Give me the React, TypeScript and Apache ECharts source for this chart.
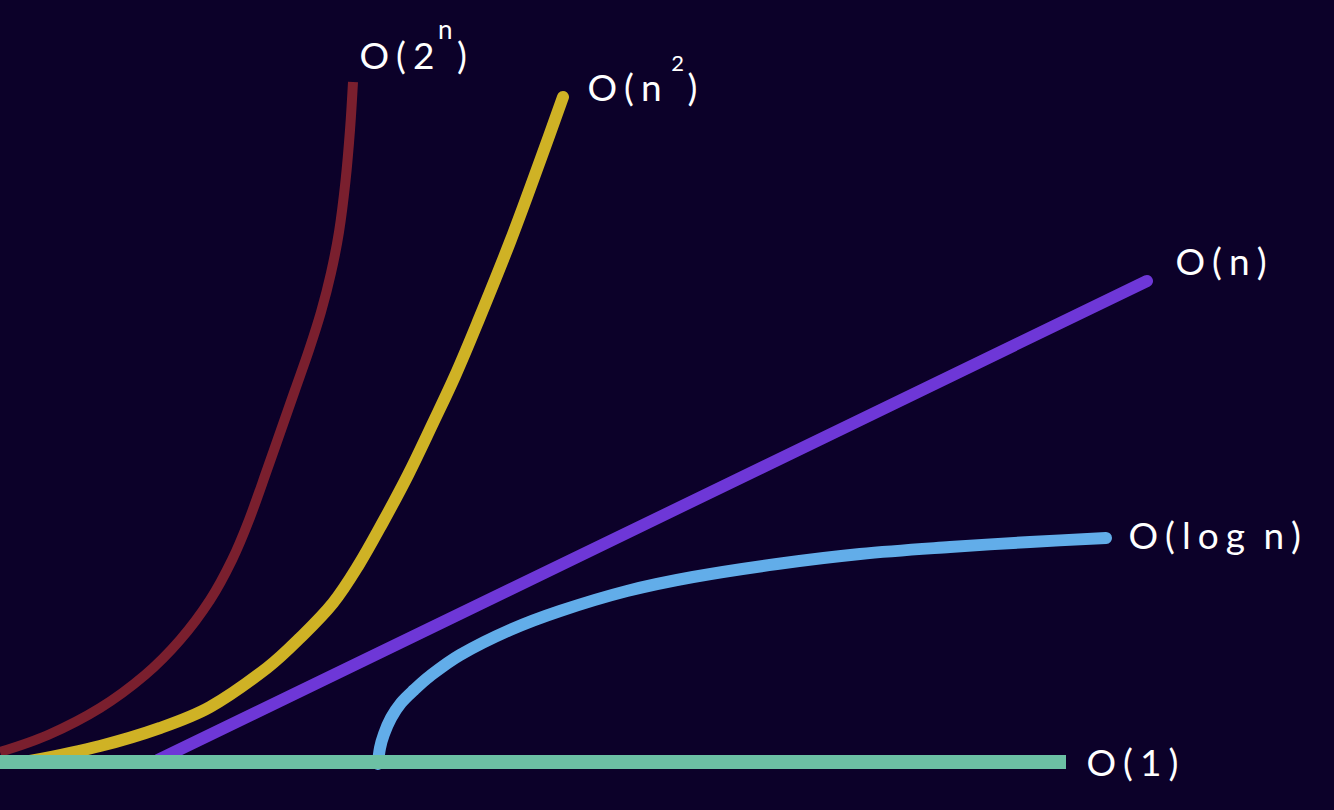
import React, { useEffect, useRef } from "react";
import * as echarts from "echarts";

// Curves: [input size, operations] in screen-like units (y grows upward)
const exponentialPts: number[][] = [
  [0, 58], [48, 75], [100, 102], [145, 135], [180, 170], [210, 210], [232, 250],
  [249, 290], [268, 343], [281, 380], [295, 420], [309, 460], [321, 498], [331, 537],
  [339, 578], [345.5, 629], [350, 680], [353, 728],
];
const quadraticPts: number[][] = [
  [30, 49], [100, 64], [160, 82], [210, 103], [267, 142], [300, 172], [333, 207],
  [358, 244], [383, 288], [408, 335], [433, 387], [455, 434], [477, 486], [510, 568],
  [540, 649], [563, 713],
];
const linearPts: number[][] = [
  [158, 50], [1147, 529],
];
const logPts: number[][] = [
  [378, 46], [380, 62], [384, 76], [391, 92], [401, 107], [414, 120], [430, 134],
  [460, 155], [510, 180], [560, 199], [627, 219], [693, 233], [777, 246], [860, 256],
  [950, 263], [1030, 268], [1106, 272],
];
const constantPts: number[][] = [
  [0, 48], [1066, 48],
];

const labelBase = ["O(2", "O(n", "O(n)", "O(log n)", "O(1)"];
const labelSup = ["n", "2", "", "", ""];
const labelTail = [")", ")", "", "", ""];

const BG = "#0c0129";
const FONT = "Lato, 'Open Sans', sans-serif";

const spaced = (s: string) =>
  s.split("").map((ch) => (ch === " " ? "{sp| }" : `{c|${ch}}`)).join("");

export default function App() {
  const ref = useRef<HTMLDivElement>(null);

  useEffect(() => {
    document.body.style.margin = "0";
    document.body.style.background = BG;
    if (!ref.current) return;
    const chart = echarts.init(ref.current, undefined, { renderer: "svg" });

    const mkRich = (lh: number) => ({
      c: { color: "#ffffff", fontSize: 37, fontFamily: FONT, lineHeight: lh, padding: [0, 3.5, 0, 3.5] },
      sp: { color: "#ffffff", fontSize: 37, fontFamily: FONT, lineHeight: lh, padding: [0, 1, 0, 1] },
      s: { color: "#ffffff", fontSize: 26, fontFamily: FONT, lineHeight: 26, verticalAlign: "top" as const, padding: [0, 1, 0, 0] },
      s2: { color: "#ffffff", fontSize: 22, fontFamily: FONT, lineHeight: 22, verticalAlign: "top" as const, padding: [0, 0, 0, 6] },
    });

    const mkLabel = (i: number, offset: number[], lh: number) => ({
      show: true,
      distance: 0,
      offset,
      formatter: () => {
        let out = spaced(labelBase[i]);
        if (labelSup[i]) out += `{${i === 1 ? "s2" : "s"}|${labelSup[i]}}`;
        if (labelTail[i]) out += spaced(labelTail[i]);
        return out;
      },
      rich: mkRich(lh),
    });

    const mk = (
      i: number,
      data: number[][],
      color: string,
      width: number,
      cap: "round" | "butt",
      z: number,
      offset: number[],
      lh: number,
      smooth: number | boolean
    ) => ({
      type: "line" as const,
      name: labelBase[i] + labelSup[i] + labelTail[i],
      data,
      smooth,
      showSymbol: false,
      symbol: "none",
      z,
      lineStyle: { color, width, cap, join: "round" as const },
      endLabel: mkLabel(i, offset, lh),
      emphasis: { disabled: true },
    });

    chart.setOption({
      animation: false,
      backgroundColor: BG,
      grid: { left: 0, right: 0, top: 0, bottom: 0, containLabel: false },
      xAxis: { type: "value", min: 0, max: 1334, show: false },
      yAxis: { type: "value", min: 0, max: 810, show: false },
      series: [
        mk(0, exponentialPts, "#7a1f2e", 10, "butt", 2, [3, -28], 76, 0.35),
        mk(1, quadraticPts, "#cfb225", 12, "round", 3, [21, -11], 70, 0.35),
        mk(2, linearPts, "#6e37d7", 12, "round", 4, [25, -21], 50, false),
        mk(3, logPts, "#62ade9", 12, "round", 5, [19, -4], 50, 0.35),
        mk(4, constantPts, "#6cc0a4", 14, "butt", 6, [17, -1], 50, false),
      ],
    });

    return () => chart.dispose();
  }, []);

  return <div ref={ref} style={{ width: 1334, height: 810 }} />;
}
